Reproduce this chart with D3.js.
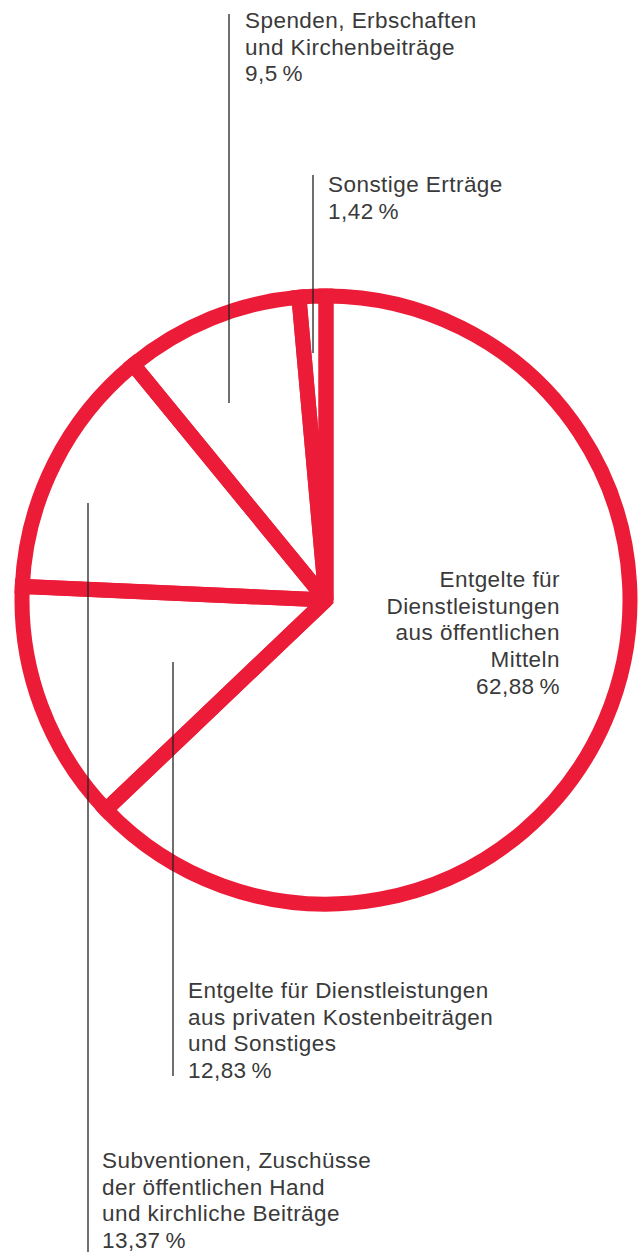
<!DOCTYPE html>
<html>
<head>
<meta charset="utf-8">
<script src="https://cdn.jsdelivr.net/npm/d3@7"></script>
<style>
  html, body { margin: 0; padding: 0; background: #fff; }
  text { font-family: "Liberation Sans", Arial, sans-serif; font-size: 22.5px; letter-spacing: 0.45px; fill: #3a3a3a; }
</style>
</head>
<body>
<svg id="pie" width="644" height="1253"></svg>
<script>
// slices, clockwise from 12 o'clock
const names = [
  ["Entgelte für", "Dienstleistungen", "aus öffentlichen", "Mitteln"],
  ["Entgelte für Dienstleistungen", "aus privaten Kostenbeiträgen", "und Sonstiges"],
  ["Subventionen, Zuschüsse", "der öffentlichen Hand", "und kirchliche Beiträge"],
  ["Spenden, Erbschaften", "und Kirchenbeiträge"],
  ["Sonstige Erträge"]
];
const shares = [62.88, 12.83, 13.37, 9.5, 1.42];

// label placement (layout only)
const labelPos = [
  { x: 560, y: 587, anchor: "end", lead: null },
  { x: 188, y: 998, anchor: "start", lead: { x: 173, y1: 662, y2: 1076 } },
  { x: 102, y: 1168, anchor: "start", lead: { x: 88, y1: 503, y2: 1252 } },
  { x: 245, y: 28, anchor: "start", lead: { x: 229, y1: 14, y2: 403 } },
  { x: 328, y: 192, anchor: "start", lead: { x: 313, y1: 175, y2: 353 } }
];

const svg = d3.select("#pie");
const cx = 326, cy = 600, R = 304;
const red = "#ec1c38";
const lineH = 26.7;

const data = shares.map((v, i) => ({ lines: names[i], value: v, pos: labelPos[i] }));

const pie = d3.pie().value(d => d.value).sort(null);
const arc = d3.arc().innerRadius(0).outerRadius(R);

const g = svg.append("g").attr("transform", `translate(${cx},${cy})`);
g.selectAll("path")
  .data(pie(data))
  .join("path")
    .attr("d", arc)
    .attr("fill", "none")
    .attr("stroke", red)
    .attr("stroke-width", 15)
    .attr("stroke-linejoin", "miter")
    .attr("stroke-miterlimit", 2);

// leader lines over the pie
svg.selectAll("line.lead")
  .data(data.filter(d => d.pos.lead))
  .join("line")
    .attr("class", "lead")
    .attr("x1", d => d.pos.lead.x).attr("x2", d => d.pos.lead.x)
    .attr("y1", d => d.pos.lead.y1).attr("y2", d => d.pos.lead.y2)
    .attr("stroke", "#222")
    .attr("stroke-width", 1.3);

const pct = v => String(v).replace(".", ",") + "\u2009%";

const labels = svg.selectAll("text.lbl")
  .data(data)
  .join("text")
    .attr("class", "lbl")
    .attr("text-anchor", d => d.pos.anchor);

labels.selectAll("tspan")
  .data(d => d.lines.concat([pct(d.value)]).map((t, k) => ({ t, k, pos: d.pos })))
  .join("tspan")
    .attr("x", d => d.pos.x)
    .attr("y", d => d.pos.y + d.k * lineH)
    .text(d => d.t);
</script>
</body>
</html>
